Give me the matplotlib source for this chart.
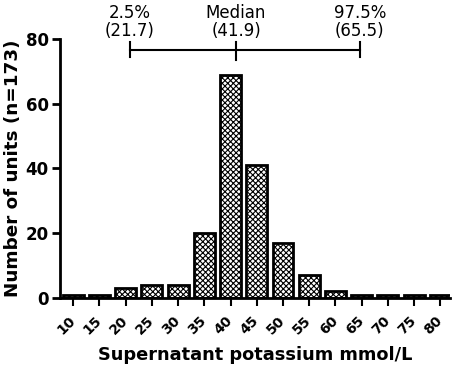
import numpy as np
import matplotlib
matplotlib.use('Agg')
import matplotlib.pyplot as plt
from matplotlib.transforms import ScaledTranslation

bins = [10, 15, 20, 25, 30, 35, 40, 45, 50, 55, 60, 65, 70, 75, 80]
counts = [1, 1, 3, 4, 4, 20, 69, 41, 17, 7, 2, 1, 1, 1, 1]
ref_labels = ['2.5%\n(21.7)', 'Median\n(41.9)', '97.5%\n(65.5)']
ref_values = [21.7, 41.9, 65.5]

plt.rcParams['font.family'] = 'DejaVu Sans'
plt.rcParams['hatch.linewidth'] = 0.8

fig = plt.figure(figsize=(4.54, 3.71), dpi=100)
ax = fig.add_axes([0.132, 0.197, 0.859, 0.698])

ax.bar(bins, counts, width=4.0, color='white', edgecolor='black',
       linewidth=2, hatch='xxxxxx', zorder=2)

ax.set_xlim(7.5, 81.8)
ax.set_ylim(0, 80)
ax.set_yticks([0, 20, 40, 60, 80])
ax.set_xticks(bins)
ax.set_xticklabels([str(b) for b in bins], rotation=45, ha='right', va='center',
                   rotation_mode='anchor', fontweight='bold', fontsize=10)
shift = ScaledTranslation(3 / 100, 0, fig.dpi_scale_trans)
for lab in ax.get_xticklabels():
    lab.set_transform(lab.get_transform() + shift)
for lab in ax.get_yticklabels():
    lab.set_fontweight('bold')
    lab.set_fontsize(12)

ax.spines['top'].set_visible(False)
ax.spines['right'].set_visible(False)
ax.spines['left'].set_linewidth(2)
ax.spines['bottom'].set_linewidth(2)
ax.tick_params(axis='y', length=6, width=2, pad=2)
ax.tick_params(axis='x', length=6, width=1.5, pad=9)

ax.set_xlabel('Supernatant potassium mmol/L', fontsize=12.8, fontweight='bold', labelpad=6)
ax.set_ylabel('Number of units (n=173)', fontsize=13.2, fontweight='bold', labelpad=3)

# reference-interval bracket (slightly left of bar centres, as in the original)
bracket_shift = -0.85
yb = 76.5
xs = [v + bracket_shift for v in ref_values]
ax.plot([xs[0], xs[2]], [yb, yb], color='black', lw=1.5, clip_on=False)
for x, lab in zip(xs, ref_labels):
    lo = 73.5 if lab.startswith('Median') else 74.4
    ax.plot([x, x], [lo, 79.2], color='black', lw=1.5, clip_on=False)
    ax.text(x, 79.8, lab, ha='center', va='bottom', fontsize=12,
            linespacing=0.95, clip_on=False)

fig.savefig('out.png', dpi=100)
